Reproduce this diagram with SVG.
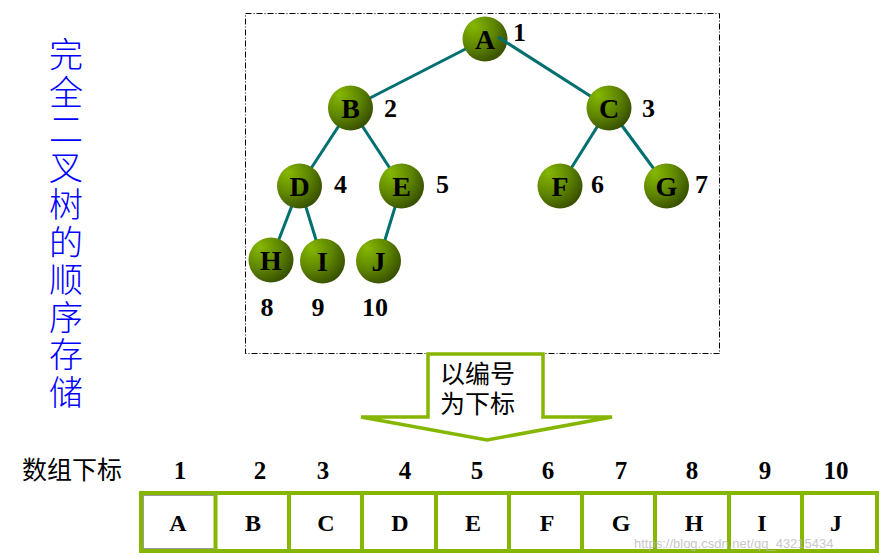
<svg xmlns="http://www.w3.org/2000/svg" width="886" height="558" viewBox="0 0 886 558">
<defs>
<radialGradient id="ball" cx="0.3" cy="0.3" r="0.8" fx="0.25" fy="0.2">
<stop offset="0" stop-color="#86b800"/>
<stop offset="0.55" stop-color="#5e8500"/>
<stop offset="1" stop-color="#344a00"/>
</radialGradient>
<style>
.edge{stroke:#006f6f;stroke-width:3;fill:none}
.ball{fill:url(#ball)}
.nl{font-family:"Liberation Serif",serif;font-weight:bold;font-size:28px;fill:#000;text-anchor:middle}
.num{font-family:"Liberation Serif",serif;font-weight:bold;font-size:26px;fill:#000}
.idx{font-family:"Liberation Serif",serif;font-weight:bold;font-size:25px;fill:#000;text-anchor:middle}
.cell{font-family:"Liberation Serif",serif;font-weight:bold;font-size:24px;fill:#000;text-anchor:middle}
.cjk{font-family:"Liberation Sans","Noto Sans CJK SC",sans-serif;fill:#000}
.grn{stroke:#85b700;stroke-width:3.5;fill:#fff}
</style>
</defs>
<rect x="245.5" y="13.5" width="474" height="340" fill="none" stroke="#000" stroke-width="1" stroke-dasharray="6,2,1,2"/>
<g id="title">
<text class="cjk" font-size="34" style="fill:#0000ff;font-weight:300" text-anchor="middle">
<tspan x="66" y="67">完</tspan><tspan x="66" y="104.5">全</tspan><tspan x="66" y="142">二</tspan><tspan x="66" y="179.5">叉</tspan><tspan x="66" y="217">树</tspan><tspan x="66" y="254.5">的</tspan><tspan x="66" y="292">顺</tspan><tspan x="66" y="329.5">序</tspan><tspan x="66" y="367">存</tspan><tspan x="66" y="404.5">储</tspan>
</text>
</g>
<g id="connectors">
<line class="edge" x1="485" y1="39" x2="350.5" y2="108"/>
<line class="edge" x1="350.5" y1="108" x2="299.5" y2="186"/>
<line class="edge" x1="350.5" y1="108" x2="401.5" y2="186"/>
<line class="edge" x1="609" y1="108" x2="560" y2="186"/>
<line class="edge" x1="609" y1="108" x2="666.5" y2="186"/>
<line class="edge" x1="299.5" y1="186" x2="271" y2="260"/>
<line class="edge" x1="299.5" y1="186" x2="322.5" y2="261"/>
<line class="edge" x1="401.5" y1="186" x2="378.5" y2="261"/>
</g>
<g id="nA"><circle class="ball" cx="485" cy="39" r="22.5"/><text class="nl" x="485" y="49">A</text><text class="num" x="513" y="41" font-size="30">1</text></g>
<line class="edge" x1="498" y1="37" x2="609" y2="108"/>
<g id="nB"><circle class="ball" cx="350.5" cy="108" r="22.5"/><text class="nl" x="350.5" y="118">B</text><text class="num" x="384" y="117" font-size="24">2</text></g>
<g id="nC"><circle class="ball" cx="609" cy="108" r="22.5"/><text class="nl" x="609" y="118">C</text><text class="num" x="642" y="117" font-size="24">3</text></g>
<g id="nD"><circle class="ball" cx="299.5" cy="186" r="22.5"/><text class="nl" x="299.5" y="196">D</text><text class="num" x="334" y="193">4</text></g>
<g id="nE"><circle class="ball" cx="401.5" cy="186" r="22.5"/><text class="nl" x="401.5" y="196">E</text><text class="num" x="436" y="193">5</text></g>
<g id="nF"><circle class="ball" cx="560" cy="186" r="22.5"/><text class="nl" x="560" y="196">F</text><text class="num" x="591" y="193" font-size="28">6</text></g>
<g id="nG"><circle class="ball" cx="666.5" cy="186" r="22.5"/><text class="nl" x="666.5" y="196">G</text><text class="num" x="695" y="193" font-size="28">7</text></g>
<g id="nH"><circle class="ball" cx="271" cy="260" r="22.5"/><text class="nl" x="271" y="270">H</text><text class="num" x="267" y="316" font-size="29" text-anchor="middle">8</text></g>
<g id="nI"><circle class="ball" cx="322.5" cy="261" r="22.5"/><text class="nl" x="322.5" y="271">I</text><text class="num" x="318" y="316" font-size="29" text-anchor="middle">9</text></g>
<g id="nJ"><circle class="ball" cx="378.5" cy="261" r="22.5"/><text class="nl" x="378.5" y="271">J</text><text class="num" x="375" y="316" font-size="29" text-anchor="middle">10</text></g>
<g id="arrow">
<polygon class="grn" points="428,354 543,354 543,417 612,417 487,440 361,417 428,417"/>
<text class="cjk" font-size="25"><tspan x="440" y="383">以编号</tspan><tspan x="440" y="413">为下标</tspan></text>
</g>
<g id="indexrow">
<text class="cjk" font-size="25" x="22" y="479">数组下标</text>
<text class="idx" x="180" y="479">1</text>
<text class="idx" x="260" y="479">2</text>
<text class="idx" x="323" y="479">3</text>
<text class="idx" x="405" y="479">4</text>
<text class="idx" x="477" y="479">5</text>
<text class="idx" x="548" y="479">6</text>
<text class="idx" x="621" y="479">7</text>
<text class="idx" x="692" y="479">8</text>
<text class="idx" x="765" y="479">9</text>
<text class="idx" x="836" y="479">10</text>
</g>
<g id="array">
<rect x="141" y="493" width="736" height="58" fill="#fff" stroke="#85b700" stroke-width="4"/>
<rect x="143.5" y="495.5" width="71" height="53" fill="none" stroke="#999" stroke-width="1"/>
<g stroke="#85b700" stroke-width="4">
<line x1="215.5" y1="493" x2="215.5" y2="551"/>
<line x1="289" y1="493" x2="289" y2="551"/>
<line x1="362" y1="493" x2="362" y2="551"/>
<line x1="436" y1="493" x2="436" y2="551"/>
<line x1="509" y1="493" x2="509" y2="551"/>
<line x1="582" y1="493" x2="582" y2="551"/>
<line x1="655" y1="493" x2="655" y2="551"/>
<line x1="729" y1="493" x2="729" y2="551"/>
<line x1="802" y1="493" x2="802" y2="551"/>
</g>
<text class="cell" x="178" y="531">A</text>
<text class="cell" x="253" y="531">B</text>
<text class="cell" x="326" y="531">C</text>
<text class="cell" x="400" y="531">D</text>
<text class="cell" x="473" y="531">E</text>
<text class="cell" x="547" y="531">F</text>
<text class="cell" x="621" y="531">G</text>
<text class="cell" x="694" y="531">H</text>
<text class="cell" x="762" y="531">I</text>
<text class="cell" x="836" y="531">J</text>
</g>
<text x="634" y="548" font-family="Liberation Sans, sans-serif" font-size="13" fill="#bbbbbb" opacity="0.8">https://blog.csdn.net/qq_43215434</text>
</svg>
